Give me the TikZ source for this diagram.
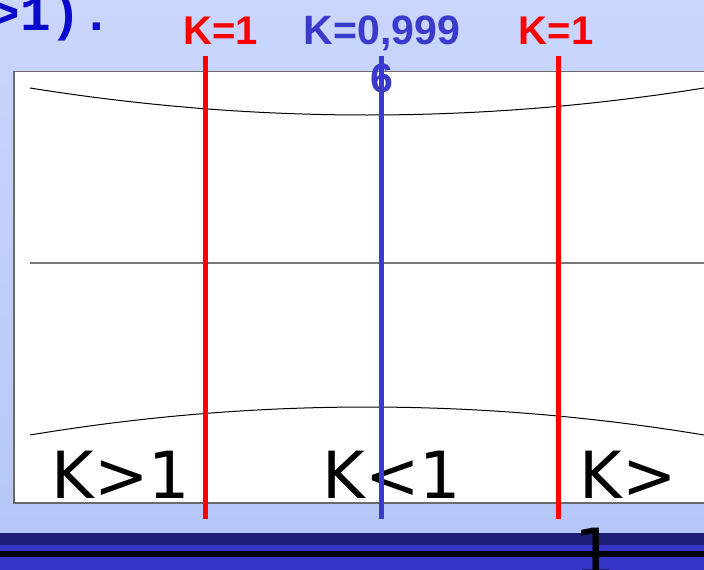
\documentclass[tikz,border=0pt]{standalone}
\usepackage{fontspec}
\setmainfont{DejaVu Sans}
\newfontfamily\arialbold{Liberation Sans}[BoldFont=* Bold]
\newfontfamily\courierfont{Liberation Mono}[BoldFont=* Bold]
\definecolor{bgtop}{RGB}{202,214,252}
\definecolor{bgbot}{RGB}{182,198,248}
\definecolor{navy}{RGB}{31,31,122}
\definecolor{bandblue}{RGB}{52,52,200}
\definecolor{boxgray}{RGB}{106,106,106}
\definecolor{midgray}{RGB}{119,119,119}
\definecolor{kblue}{RGB}{58,58,204}
\definecolor{kred}{RGB}{255,0,0}
\definecolor{titleblue}{RGB}{10,10,204}
\tikzset{
  plain/.style={inner sep=0pt, outer sep=0pt},
  biglabel/.style={plain, font=\fontsize{65}{77}\selectfont, text=black, anchor=base west, align=left},
  toplabel/.style={plain, font=\arialbold\bfseries\fontsize{40}{48}\selectfont, anchor=base},
  kline/.style={line width=5pt},
  curve/.style={black, line width=1pt},
}
\begin{document}
\begin{tikzpicture}[x=1pt,y=-1pt]
\useasboundingbox (0,0) rectangle (704,570);
\clip (0,0) rectangle (704,570);
% background
\shade[top color=bgtop, bottom color=bgbot] (0,0) rectangle (704,533);
\fill[navy] (0,533) rectangle (704,545);
\fill[bandblue] (0,545) rectangle (704,551);
\fill[black] (0,551) rectangle (704,557);
\fill[bandblue] (0,557) rectangle (704,570);
% title fragment
\node[plain, anchor=base west, text=titleblue, font=\courierfont\bfseries\fontsize{51}{60}\selectfont] (title) at (-41,30) {K>1).};
% white box
\draw[boxgray, line width=1.5pt, fill=white] (14,71.7) rectangle (720,503);
% curves
\coordinate (tl) at (30,88);
\coordinate (tr) at (704,88);
\coordinate (bl) at (30,435);
\coordinate (br) at (704,435);
\coordinate (ml) at (30,263);
\coordinate (mr) at (704,263);
\draw[curve] (tl) .. controls (254.7,124) and (479.3,124) .. (tr);
\draw[curve] (bl) .. controls (254.7,397.7) and (479.3,397.7) .. (br);
\draw[midgray, line width=1.5pt] (ml) -- (mr);
% lower labels
\node[biglabel] (kg1) at (51.6,498) {K>1};
\node[biglabel] (kl1) at (322.6,498) {K<1};
\node[biglabel] (kg2) at (579.6,575) {K>\\\hspace*{-5pt}1};
% vertical lines
\coordinate (r1t) at (205.5,56);
\coordinate (r1b) at (205.5,519);
\coordinate (bt) at (381.5,56);
\coordinate (bb) at (381.5,519);
\coordinate (r2t) at (558,56);
\coordinate (r2b) at (558,519);
\draw[kline, kred] (r1t) -- (r1b);
\draw[kline, kred] (r2t) -- (r2b);
\draw[kline, kblue] (bt) -- (bb);
% top labels
\node[toplabel, text=kred] (lab1) at (220.5,44) {K=1};
\node[toplabel, text=kred] (lab3) at (556,44) {K=1};
\node[toplabel, text=kblue, align=center, font=\arialbold\bfseries\fontsize{41}{48}\selectfont] (lab2) at (382,92) {K=0,999\\6};
\end{tikzpicture}
\end{document}
